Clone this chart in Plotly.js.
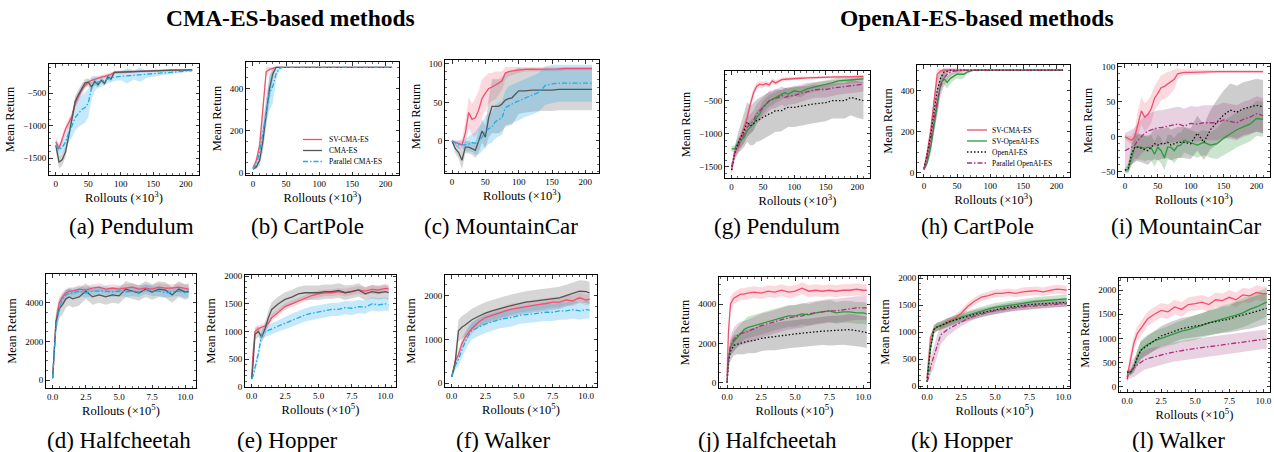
<!DOCTYPE html>
<html><head><meta charset="utf-8">
<script src="https://cdn.plot.ly/plotly-3.0.1.min.js"></script>
<style>html,body{margin:0;padding:0;background:#fff}#chart{width:1274px;height:452px}</style>
</head><body><div id="chart"></div>
<script>
// ---------- x grids ----------
const xTop = [0,5,10,15,20,25,30,35,40,45,50,55,60,65,70,75,80,85,90,100,110,120,130,140,150,160,170,180,190,200,210];
const xBot = [0,0.1,0.25,0.5,0.75,1,1.25,1.5,2,2.5,3,3.5,4,4.5,5,5.5,6,6.5,7,7.5,8,8.5,9,9.5,10,10.25];

// ---------- (a) Pendulum, CMA-ES ----------
const aSV  = [-1250,-1350,-1200,-1050,-950,-850,-650,-550,-450,-380,-330,-300,-280,-265,-250,-240,-230,-210,-180,-175,-170,-165,-160,-160,-155,-150,-150,-145,-145,-140,-140];
const aSVs = [80,60,60,60,70,70,80,70,60,50,40,40,30,30,30,30,30,25,20,20,20,20,15,15,15,15,15,15,15,15,15];
const aCMA = [-1300,-1560,-1520,-1400,-1150,-900,-620,-520,-420,-340,-330,-400,-320,-370,-300,-350,-250,-280,-180,-175,-170,-165,-160,-160,-155,-150,-150,-145,-145,-140,-140];
const aCMAs= [80,100,90,80,80,80,80,80,70,60,60,60,50,50,40,40,40,40,25,20,20,20,15,15,15,15,15,15,15,15,15];
const aPar = [-1300,-1370,-1330,-1250,-1100,-1000,-870,-800,-750,-720,-650,-420,-350,-330,-320,-300,-280,-265,-250,-240,-230,-220,-215,-210,-200,-190,-185,-175,-165,-155,-150];
const aPars= [80,80,100,120,150,180,200,220,230,230,220,180,120,80,80,70,70,70,60,60,120,70,110,50,40,30,30,25,25,20,20];

// ---------- (b) CartPole, CMA-ES ----------
const bSV  = [25,60,130,300,480,490,495,500,500,500,500,500,500,500,500,500,500,500,500,500,500,500,500,500,500,500,500,500,500,500,500];
const bSVs = [5,15,30,50,25,10,5,2,0,0,0,0,0,0,0,0,0,0,0,0,0,0,0,0,0,0,0,0,0,0,0];
const bCMA = [20,30,60,150,280,400,470,500,500,500,500,500,500,500,500,500,500,500,500,500,500,500,500,500,500,500,500,500,500,500,500];
const bCMAs= [5,10,25,50,60,60,30,5,0,0,0,0,0,0,0,0,0,0,0,0,0,0,0,0,0,0,0,0,0,0,0];
const bPar = [20,40,100,200,300,380,410,470,495,500,500,500,500,500,500,500,500,500,500,500,500,500,500,500,500,500,500,500,500,500,500];
const bPars= [5,15,30,50,60,80,80,30,10,0,0,0,0,0,0,0,0,0,0,0,0,0,0,0,0,0,0,0,0,0,0];

// ---------- (c) MountainCar, CMA-ES ----------
const cSV  = [0,-2,-4,-5,10,37,28,30,40,55,62,68,70,72,75,78,88,90,91,92,93,93,93,93,93.5,93.5,94,94,94,94,94];
const cSVs = [2,3,5,8,15,20,20,25,25,25,22,20,18,18,15,12,8,6,5,4,3,3,3,3,3,3,2,2,2,2,2];
const cCMA = [0,-10,-15,-25,-8,-8,-10,-12,0,13,5,30,45,45,45,48,53,55,56,65,65,66,66,66,66,67,67,67,67,67,67];
const cCMAs= [2,6,8,12,8,8,8,10,15,15,15,25,35,35,35,35,35,35,35,30,28,28,27,27,27,27,27,27,27,27,27];
const cPar = [0,-3,-5,-5,-5,-4,-2,-3,0,5,12,16,18,25,28,30,43,46,48,52,56,60,63,72,74,75,75,75,75,75,75];
const cPars= [2,3,5,5,8,10,12,15,18,18,20,20,20,22,22,22,22,25,25,25,25,25,25,25,25,24,24,24,24,24,24];

// ---------- (g) Pendulum, OpenAI-ES ----------
const gSV  = [-1550,-1300,-1200,-1050,-900,-750,-550,-380,-280,-250,-260,-240,-260,-200,-230,-200,-180,-175,-170,-160,-160,-155,-150,-150,-145,-145,-140,-140,-140,-135,-135];
const gSVs = [50,60,70,80,80,80,80,70,50,50,50,40,40,40,40,30,30,30,25,25,20,20,20,20,20,20,20,20,20,20,20];
const gSVO = [-1230,-1230,-1150,-1100,-1050,-950,-900,-850,-750,-700,-600,-550,-500,-480,-450,-420,-400,-380,-400,-350,-370,-320,-300,-280,-260,-230,-200,-190,-180,-170,-170];
const gSVOs= [40,60,80,100,100,100,100,100,100,100,100,90,90,90,80,80,80,80,80,80,80,70,70,70,60,60,60,60,60,60,60];
const gOES = [-1550,-1300,-1150,-1050,-950,-820,-880,-850,-800,-780,-750,-720,-700,-680,-650,-650,-650,-620,-600,-600,-580,-570,-550,-540,-530,-500,-500,-500,-450,-480,-500];
const gOESs= [50,100,150,200,250,300,300,320,320,330,330,330,330,320,320,320,310,310,300,300,300,290,290,280,280,270,270,270,270,280,280];
const gPar = [-1500,-1280,-1200,-1100,-1000,-900,-850,-800,-700,-650,-600,-550,-500,-480,-470,-450,-420,-450,-430,-420,-390,-360,-340,-330,-330,-310,-300,-290,-280,-260,-250];
const gPars= [50,80,100,120,130,140,150,150,150,150,150,150,150,140,140,140,140,140,130,130,130,130,120,120,120,120,110,110,110,110,110];

// ---------- (h) CartPole, OpenAI-ES ----------
const hSV  = [20,100,200,330,480,495,500,500,500,500,500,500,500,500,500,500,500,500,500,500,500,500,500,500,500,500,500,500,500,500,500];
const hSVs = [5,20,40,60,30,10,5,0,0,0,0,0,0,0,0,0,0,0,0,0,0,0,0,0,0,0,0,0,0,0,0];
const hSVO = [15,50,120,220,330,430,460,440,460,470,480,480,480,490,495,500,500,500,500,500,500,500,500,500,500,500,500,500,500,500,500];
const hSVOs= [5,15,30,40,50,40,30,30,25,20,20,25,20,10,5,0,0,0,0,0,0,0,0,0,0,0,0,0,0,0,0];
const hOES = [20,90,180,300,400,460,490,495,500,500,500,500,500,500,500,500,500,500,500,500,500,500,500,500,500,500,500,500,500,500,500];
const hOESs= [5,20,40,60,60,40,20,10,5,0,0,0,0,0,0,0,0,0,0,0,0,0,0,0,0,0,0,0,0,0,0];
const hPar = [15,70,150,250,350,420,460,480,490,495,495,498,500,500,500,500,500,500,500,500,500,500,500,500,500,500,500,500,500,500,500];
const hPars= [5,20,40,50,60,50,40,30,20,15,15,10,5,0,0,0,0,0,0,0,0,0,0,0,0,0,0,0,0,0,0];

// ---------- (i) MountainCar, OpenAI-ES ----------
const iSV  = [0,-3,-5,0,20,37,28,32,40,55,62,70,72,75,78,82,90,91,92,92,92.5,92.5,93,93,93,93,93,93,93,93,93];
const iSVs = [3,4,6,10,18,20,20,20,20,18,18,18,18,18,16,14,8,5,4,3,3,3,2,2,2,2,2,2,2,2,2];
const iSVO = [-48,-47,-30,-15,-15,-15,-17,-15,-16,-25,-15,-20,-30,-15,-15,-20,-13,-12,-5,-8,-12,-8,-12,-10,-2,4,10,14,18,26,25];
const iSVOs= [3,5,12,15,18,18,18,18,18,18,18,18,18,18,18,18,18,18,18,18,18,18,18,22,25,25,25,25,25,25,25];
const iOES = [-48,-45,-25,-15,-15,-17,-18,-20,-15,-10,-12,-10,-10,-8,-12,-10,-8,-8,-8,-10,5,-8,10,21,31,38,35,40,42,45,43];
const iOESs= [3,6,15,20,20,20,20,20,20,22,22,22,22,22,22,22,22,22,22,22,25,25,28,32,35,38,38,38,38,38,38];
const iPar = [-20,-18,-15,-12,-5,0,5,8,10,12,13,13,14,15,16,17,18,17,15,19,18,20,20,20,24,22,20,25,28,33,30];
const iPars= [25,25,25,25,25,25,25,25,25,25,25,25,25,25,25,25,25,25,25,25,25,25,25,25,25,25,25,25,25,25,25];

// ---------- (d) Halfcheetah, CMA-ES ----------
const dSV  = [100,1500,3000,4000,4300,4500,4600,4600,4700,4650,4750,4800,4700,4750,4700,4750,4800,4700,4750,4700,4800,4750,4750,4800,4750,4700];
const dSVs = [50,300,400,300,250,200,200,200,200,200,200,200,200,200,200,200,200,200,200,200,200,200,200,200,200,200];
const dCMA = [100,1500,3000,3700,3900,4200,4300,4200,4300,4600,4300,4400,4300,4400,4350,4700,4600,4500,4700,4550,4700,4650,4400,4700,4550,4600];
const dCMAs= [50,300,500,500,500,450,450,450,450,400,400,400,400,400,400,400,400,400,400,400,400,400,400,400,400,400];
const dPar = [100,1400,2800,3700,4200,4400,4500,4500,4600,4500,4600,4600,4600,4550,4600,4550,4600,4550,4700,4600,4600,4500,4550,4600,4500,4550];
const dPars= [50,300,400,300,250,250,250,250,250,250,250,250,250,250,250,250,250,250,250,250,250,250,250,250,250,250];

// ---------- (e) Hopper, CMA-ES ----------
const eSV  = [150,600,1000,1050,1080,1100,1150,1250,1350,1450,1500,1550,1600,1650,1680,1700,1700,1720,1700,1720,1750,1730,1760,1750,1780,1770];
const eSVs = [30,100,80,60,60,60,60,60,60,60,60,60,60,60,60,60,60,60,70,70,70,70,80,80,80,80];
const eCMA = [150,400,950,1000,900,1050,1250,1400,1500,1580,1620,1680,1700,1700,1700,1720,1720,1740,1700,1720,1750,1680,1720,1700,1720,1700];
const eCMAs= [30,100,100,100,100,120,130,130,130,130,130,130,130,130,130,130,130,130,130,120,120,120,120,120,120,120];
const ePar = [150,200,350,600,950,1000,1020,1050,1100,1150,1200,1250,1300,1330,1350,1370,1400,1400,1430,1420,1450,1440,1500,1480,1500,1480];
const ePars= [30,50,80,100,100,100,100,100,100,110,120,120,120,120,120,120,120,120,120,120,120,120,120,120,120,120];

// ---------- (f) Walker, CMA-ES ----------
const fSV  = [150,300,500,650,900,1050,1150,1250,1400,1500,1550,1600,1650,1700,1720,1750,1780,1800,1820,1850,1850,1900,1880,1950,1900,1920];
const fSVs = [30,60,100,120,120,120,120,120,120,120,120,120,120,120,120,120,120,120,120,120,120,120,120,120,120,120];
const fCMA = [150,300,450,1200,1280,1330,1400,1450,1530,1600,1650,1700,1740,1780,1820,1850,1870,1890,1900,1920,1950,2000,2050,2100,2090,2060];
const fCMAs= [30,80,120,250,250,250,250,250,250,250,250,250,250,250,250,250,250,250,250,250,250,250,250,250,250,250];
const fPar = [150,250,400,550,750,950,1100,1200,1280,1350,1400,1450,1480,1500,1550,1560,1580,1600,1620,1620,1650,1650,1680,1650,1680,1670];
const fPars= [30,60,100,150,180,200,200,200,200,200,200,200,200,200,200,200,200,200,200,200,200,200,200,200,200,200];

// ---------- (j) Halfcheetah, OpenAI-ES ----------
const jSV  = [300,2500,4000,4300,4400,4500,4500,4550,4600,4550,4650,4600,4700,4600,4650,4800,4650,4700,4650,4700,4650,4700,4700,4750,4700,4700];
const jSVs = [100,400,400,300,300,300,300,300,300,300,300,300,300,300,300,300,300,300,300,300,300,300,300,300,300,300];
const jSVO = [0,1200,1800,2100,2300,2500,2700,2800,2900,3000,3100,3200,3300,3400,3400,3500,3450,3550,3600,3650,3550,3600,3600,3550,3550,3500];
const jSVOs= [50,300,400,450,500,500,500,550,550,550,550,550,550,550,550,550,550,550,550,550,550,550,550,550,550,550];
const jOES = [0,1000,1600,1900,1950,2000,2050,2100,2150,2250,2300,2350,2400,2450,2500,2520,2550,2600,2620,2640,2650,2680,2700,2650,2600,2550];
const jOESs= [50,300,500,500,500,550,600,600,650,650,650,700,700,700,700,700,700,700,700,750,750,750,800,800,800,800];
const jPar = [0,1200,1900,2200,2400,2500,2550,2600,2750,2900,3000,3100,3200,3300,3350,3400,3500,3550,3600,3650,3650,3700,3750,3800,3800,3800];
const jPars= [50,300,500,600,600,600,600,600,600,600,600,600,600,600,600,600,600,600,600,600,600,600,600,600,600,600];

// ---------- (k) Hopper, OpenAI-ES ----------
const kSV  = [150,500,900,1050,1100,1120,1150,1200,1250,1350,1480,1580,1650,1680,1720,1720,1740,1720,1750,1760,1770,1750,1780,1800,1790,1780];
const kSVs = [30,80,80,60,60,60,60,60,60,70,70,70,70,70,70,70,70,70,80,80,80,80,80,80,80,80];
const kSVO = [80,300,700,1050,1100,1120,1150,1180,1230,1280,1320,1360,1400,1430,1460,1480,1500,1520,1540,1560,1570,1580,1590,1600,1620,1620];
const kSVOs= [20,60,80,80,80,80,80,80,80,80,80,80,80,80,80,80,80,80,80,80,80,80,80,80,80,80];
const kOES = [80,300,700,1050,1100,1120,1150,1180,1220,1260,1300,1330,1360,1390,1420,1440,1460,1480,1500,1510,1520,1530,1540,1550,1550,1550];
const kOESs= [20,60,80,80,80,80,80,80,80,80,80,80,80,80,80,80,80,80,80,80,80,80,80,80,80,80];
const kPar = [80,150,350,550,750,950,1000,1050,1120,1190,1250,1300,1340,1370,1400,1420,1440,1460,1470,1480,1490,1500,1510,1520,1530,1530];
const kPars= [20,60,150,200,200,180,150,120,100,80,70,60,60,60,60,60,60,60,60,60,60,60,60,60,60,60];

// ---------- (l) Walker, OpenAI-ES ----------
const lSV  = [200,350,600,900,1100,1200,1300,1400,1500,1580,1550,1650,1600,1700,1720,1750,1700,1800,1780,1850,1800,1900,1880,1950,1920,1930];
const lSVs = [50,100,150,150,150,150,150,150,150,150,150,150,150,150,150,150,150,150,150,150,150,150,150,150,150,150];
const lSVO = [300,300,280,400,600,750,820,870,950,1000,1050,1100,1150,1180,1220,1270,1320,1360,1400,1430,1480,1530,1600,1650,1720,1750];
const lSVOs= [30,50,60,100,150,200,200,200,200,200,200,220,220,240,250,250,260,270,280,280,290,300,300,300,300,300];
const lOES = [300,300,300,400,600,750,800,850,950,1050,1100,1150,1200,1230,1250,1280,1320,1350,1380,1400,1450,1480,1520,1560,1600,1620];
const lOESs= [30,50,60,100,150,180,180,200,200,200,220,220,220,220,230,240,250,260,270,280,300,300,320,330,330,330];
const lPar = [150,250,330,400,450,500,550,580,620,650,690,720,750,770,790,810,830,850,870,890,910,920,940,960,980,980];
const lPars= [50,100,150,200,200,200,200,200,200,200,200,200,200,200,200,200,200,200,200,200,200,200,200,200,200,200];

// ---------- labels ----------
const methodNames = {sv:'SV-CMA-ES', cma:'CMA-ES', par:'Parallel CMA-ES', svo:'SV-OpenAI-ES', oes:'OpenAI-ES', poes:'Parallel OpenAI-ES'};
const legendCMA = ['sv','cma','par'];
const legendOAI = ['sv','svo','oes','poes'];
const captions = ['(a) Pendulum','(b) CartPole','(c) MountainCar','(g) Pendulum','(h) CartPole','(i) MountainCar',
                  '(d) Halfcheetah','(e) Hopper','(f) Walker','(j) Halfcheetah','(k) Hopper','(l) Walker'];
const groupTitles = ['CMA-ES-based methods','OpenAI-ES-based methods'];

// ---------- styles / layout ----------
const STY = {
  sv:  {line:'#f0506e', fill:'rgba(240,80,110,0.22)', dash:'solid'},
  cma: {line:'#555555', fill:'rgba(120,120,120,0.30)', dash:'solid'},
  par: {line:'#1aaeea', fill:'rgba(30,170,235,0.26)', dash:'5px,2px,1.5px,2px'},
  svo: {line:'#2b9a3c', fill:'rgba(50,150,60,0.26)', dash:'solid'},
  oes: {line:'#111111', fill:'rgba(90,90,90,0.30)', dash:'1.5px,2px'},
  poes:{line:'#b02c80', fill:'rgba(150,50,120,0.22)', dash:'5px,2px,1.5px,2px'}
};
const W = 1274, H = 452;
const FONT = 'Liberation Serif, Times New Roman, serif';

const panels = [
  {box:[49,199,64,175],  x:xTop, xr:[-10.5,220.5], yr:[-1757,-50], xd:50, xm:10, yd:500, ym:100, xf:'d', s:[['sv',aSV,aSVs],['cma',aCMA,aCMAs],['par',aPar,aPars]]},
  {box:[246,399,62,175], x:xTop, xr:[-10.5,220.5], yr:[-8,525], xd:50, xm:10, yd:200, ym:50, xf:'d', s:[['sv',bSV,bSVs],['cma',bCMA,bCMAs],['par',bPar,bPars]]},
  {box:[445,599,60,173], x:xTop, xr:[-10.5,220.5], yr:[-41.5,105], xd:50, xm:10, yd:50, ym:10, xf:'d', s:[['sv',cSV,cSVs],['cma',cCMA,cCMAs],['par',cPar,cPars]]},
  {box:[725,870,71,178], x:xTop, xr:[-10.5,220.5], yr:[-1671,-50], xd:50, xm:10, yd:500, ym:100, xf:'d', s:[['sv',gSV,gSVs],['svo',gSVO,gSVOs],['oes',gOES,gOESs],['poes',gPar,gPars]]},
  {box:[917,1070,65,177],x:xTop, xr:[-10.5,220.5], yr:[-21,525], xd:50, xm:10, yd:200, ym:50, xf:'d', s:[['sv',hSV,hSVs],['svo',hSVO,hSVOs],['oes',hOES,hOESs],['poes',hPar,hPars]]},
  {box:[1118,1270,64,177],x:xTop,xr:[-10.5,220.5], yr:[-57.6,104], xd:50, xm:10, yd:50, ym:10, xf:'d', s:[['sv',iSV,iSVs],['svo',iSVO,iSVOs],['oes',iOES,iOESs],['poes',iPar,iPars]]},
  {box:[46,196,274,388], x:xBot, xr:[-0.5,10.8], yr:[-400,5480], xd:2.5, xm:0.5, yd:2000, ym:500, xf:'.1f', s:[['sv',dSV,dSVs],['cma',dCMA,dCMAs],['par',dPar,dPars]]},
  {box:[245,396,275,387],x:xBot, xr:[-0.5,10.8], yr:[0,2020], xd:2.5, xm:0.5, yd:500, ym:100, xf:'.1f', s:[['sv',eSV,eSVs],['cma',eCMA,eCMAs],['par',ePar,ePars]]},
  {box:[445,597,275,387],x:xBot, xr:[-0.5,10.8], yr:[-84,2470], xd:2.5, xm:0.5, yd:1000, ym:250, xf:'.1f', s:[['sv',fSV,fSVs],['cma',fCMA,fCMAs],['par',fPar,fPars]]},
  {box:[719,870,277,388],x:xBot, xr:[-0.59,10.49], yr:[-270,5373], xd:2.5, xm:0.5, yd:2000, ym:500, xf:'.1f', s:[['sv',jSV,jSVs],['svo',jSVO,jSVOs],['oes',jOES,jOESs],['poes',jPar,jPars]]},
  {box:[919,1070,276,388],x:xBot,xr:[-0.59,10.49], yr:[-37,2043], xd:2.5, xm:0.5, yd:500, ym:100, xf:'.1f', s:[['sv',kSV,kSVs],['svo',kSVO,kSVOs],['oes',kOES,kOESs],['poes',kPar,kPars]]},
  {box:[1119,1270,278,392],x:xBot,xr:[-0.59,10.49],yr:[-110,2250], xd:2.5, xm:0.5, yd:500, ym:100, xf:'.1f', s:[['sv',lSV,lSVs],['svo',lSVO,lSVOs],['oes',lOES,lOESs],['poes',lPar,lPars]]}
];
const captionPos = [[131,227],[307,227],[501,227],[777,227],[977,227],[1186,227],
                    [119,440],[287,440],[503,440],[768,440],[962,440],[1178,440]];
const titlePos = [[290,18],[977,18]];
// legend boxes: line start x, line end x, text x, first row y, row step
const legendBoxes = [
  {keys:legendCMA, x0:303, x1:322, tx:327, y0:139.5, dy:11},
  {keys:legendOAI, x0:967, x1:987, tx:990, y0:130, dy:11}
];

const traces = [];
const layout = {
  width:W, height:H, margin:{l:0,r:0,t:0,b:0}, paper_bgcolor:'#fff', plot_bgcolor:'#fff',
  font:{family:FONT, color:'#000'}, showlegend:false, annotations:[], shapes:[]
};

panels.forEach((p, k) => {
  const n = k + 1, sfx = n === 1 ? '' : String(n);
  const xa = 'x' + sfx, ya = 'y' + sfx;
  p.s.forEach(([key, m, sp]) => {
    const lo = m.map((v, i) => v - sp[i]), hi = m.map((v, i) => v + sp[i]);
    traces.push({type:'scatter', mode:'lines', x:p.x.concat(p.x.slice().reverse()), y:hi.concat(lo.slice().reverse()),
      fill:'toself', fillcolor:STY[key].fill, line:{width:0, color:STY[key].fill}, hoverinfo:'skip', xaxis:xa, yaxis:ya});
  });
  p.s.forEach(([key, m]) => {
    traces.push({type:'scatter', mode:'lines', x:p.x, y:m, name:methodNames[key],
      line:{color:STY[key].line, width:1.3, dash:STY[key].dash}, xaxis:xa, yaxis:ya});
  });
  const [l, r, t, b] = p.box;
  const common = {showline:true, linecolor:'#000', linewidth:1, mirror:'allticks', ticks:'inside', ticklen:3.5, tickwidth:0.8,
    tickcolor:'#000', showgrid:false, zeroline:false, tickfont:{size:9, family:FONT}, tick0:0};
  layout['xaxis' + sfx] = Object.assign({}, common, {domain:[l/W, r/W], anchor:ya, range:p.xr, dtick:p.xd, tickformat:p.xf,
    minor:{ticks:'inside', dtick:p.xm, ticklen:2, tickwidth:0.6, tickcolor:'#000'},
    title:{text: p.x === xTop ? 'Rollouts (×10<sup>3</sup>)' : 'Rollouts (×10<sup>5</sup>)', font:{size:12.5, family:FONT}, standoff:2}});
  layout['yaxis' + sfx] = Object.assign({}, common, {domain:[1 - b/H, 1 - t/H], anchor:xa, range:p.yr, dtick:p.yd, tickformat:'d',
    minor:{ticks:'inside', dtick:p.ym, ticklen:2, tickwidth:0.6, tickcolor:'#000'},
    title:{text:'Mean Return', font:{size:12.5, family:FONT}, standoff:5}});
});

legendBoxes.forEach(lb => {
  lb.keys.forEach((key, i) => {
    const y = 1 - (lb.y0 + i * lb.dy) / H;
    layout.shapes.push({type:'line', xref:'paper', yref:'paper', x0:lb.x0/W, x1:lb.x1/W, y0:y, y1:y,
      line:{color:STY[key].line, width:1.3, dash:STY[key].dash}});
    layout.annotations.push({xref:'paper', yref:'paper', x:lb.tx/W, y:y, text:methodNames[key], showarrow:false,
      xanchor:'left', yanchor:'middle', font:{size:7.5, family:FONT}});
  });
});

captions.forEach((c, i) => {
  layout.annotations.push({xref:'paper', yref:'paper', x:captionPos[i][0]/W, y:1 - captionPos[i][1]/H, text:c, showarrow:false,
    xanchor:'center', yanchor:'middle', font:{size:23, family:FONT}});
});
groupTitles.forEach((g, i) => {
  layout.annotations.push({xref:'paper', yref:'paper', x:titlePos[i][0]/W, y:1 - titlePos[i][1]/H, text:'<b>' + g + '</b>', showarrow:false,
    xanchor:'center', yanchor:'middle', font:{size:23.5, family:FONT}});
});

Plotly.newPlot('chart', traces, layout, {staticPlot:true, displayModeBar:false});
</script></body></html>
